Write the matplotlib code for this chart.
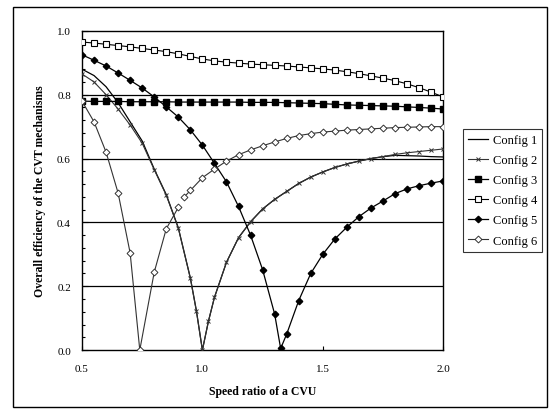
import numpy as np
import matplotlib
matplotlib.use("Agg")
import matplotlib.pyplot as plt
from matplotlib.patches import Rectangle
from matplotlib.ticker import MultipleLocator, FormatStrFormatter

plt.rcParams['font.family'] = ['Liberation Serif', 'DejaVu Serif']

# speed ratio samples, 0.05 apart
x_std = [0.50, 0.55, 0.60, 0.65, 0.70, 0.75, 0.80, 0.85, 0.90, 0.95, 1.00,
         1.05, 1.10, 1.15, 1.20, 1.25, 1.30, 1.35, 1.40, 1.45, 1.50, 1.55,
         1.60, 1.65, 1.70, 1.75, 1.80, 1.85, 1.90, 1.95, 2.00]

# configs 1 and 2 have extra samples either side of the zero at 1.0
x_c12 = [0.50, 0.55, 0.60, 0.65, 0.70, 0.75, 0.80, 0.85, 0.90, 0.95, 0.975,
         1.00, 1.025, 1.05, 1.10, 1.15, 1.20, 1.25, 1.30, 1.35, 1.40, 1.45,
         1.50, 1.55, 1.60, 1.65, 1.70, 1.75, 1.80, 1.85, 1.90, 1.95, 2.00]
eff_c1 = [0.880, 0.860, 0.825, 0.775, 0.715, 0.655, 0.567, 0.487, 0.383, 0.226, 0.124,
          0.000, 0.090, 0.165, 0.275, 0.352, 0.402, 0.442, 0.472, 0.497, 0.522, 0.542,
          0.558, 0.572, 0.583, 0.592, 0.600, 0.606, 0.610, 0.609, 0.608, 0.606, 0.605]
eff_c2 = [0.865, 0.840, 0.800, 0.755, 0.705, 0.648, 0.565, 0.485, 0.382, 0.225, 0.122,
          0.000, 0.090, 0.165, 0.275, 0.352, 0.402, 0.442, 0.472, 0.497, 0.522, 0.542,
          0.558, 0.572, 0.583, 0.592, 0.600, 0.606, 0.613, 0.618, 0.622, 0.626, 0.630]

eff_c3 = [0.780, 0.779, 0.779, 0.779, 0.778, 0.778, 0.778, 0.778, 0.777, 0.777, 0.777,
          0.777, 0.777, 0.777, 0.776, 0.776, 0.776, 0.775, 0.774, 0.773, 0.772, 0.770,
          0.768, 0.767, 0.766, 0.765, 0.764, 0.762, 0.760, 0.758, 0.755]
eff_c4 = [0.965, 0.962, 0.958, 0.954, 0.950, 0.945, 0.940, 0.935, 0.928, 0.920, 0.912,
          0.906, 0.902, 0.899, 0.896, 0.894, 0.892, 0.890, 0.887, 0.884, 0.881, 0.877,
          0.872, 0.866, 0.859, 0.852, 0.844, 0.834, 0.822, 0.808, 0.793]

x_c5 = [0.50, 0.55, 0.60, 0.65, 0.70, 0.75, 0.80, 0.85, 0.90, 0.95, 1.00,
        1.05, 1.10, 1.15, 1.20, 1.25, 1.30, 1.325, 1.35, 1.40, 1.45, 1.50,
        1.55, 1.60, 1.65, 1.70, 1.75, 1.80, 1.85, 1.90, 1.95, 2.00]
eff_c5 = [0.925, 0.908, 0.890, 0.868, 0.845, 0.821, 0.793, 0.762, 0.730, 0.690, 0.642,
          0.585, 0.527, 0.450, 0.360, 0.252, 0.113, 0.005, 0.050, 0.155, 0.240, 0.300,
          0.348, 0.385, 0.418, 0.445, 0.467, 0.490, 0.505, 0.515, 0.523, 0.530]

# config 6 has a break just after 0.9
x_c6 = [0.50, 0.55, 0.60, 0.65, 0.70, 0.74, 0.80, 0.85, 0.90, np.nan, 0.925,
        0.95, 1.00, 1.05, 1.10, 1.15, 1.20, 1.25, 1.30, 1.35, 1.40, 1.45,
        1.50, 1.55, 1.60, 1.65, 1.70, 1.75, 1.80, 1.85, 1.90, 1.95, 2.00]
eff_c6 = [0.780, 0.715, 0.620, 0.492, 0.304, 0.000, 0.244, 0.380, 0.447, np.nan, 0.480,
          0.500, 0.540, 0.567, 0.592, 0.612, 0.627, 0.640, 0.652, 0.663, 0.672, 0.678,
          0.683, 0.686, 0.689, 0.691, 0.693, 0.695, 0.697, 0.698, 0.699, 0.700, 0.700]

fig = plt.figure(figsize=(5.54, 4.14), dpi=100)
ax = fig.add_axes([0.148, 0.152, 0.652, 0.771])

for yg in [0.2, 0.4, 0.6, 0.8]:
    ax.axhline(yg, color='black', lw=0.9, zorder=1)

ax.plot(x_c12, eff_c1, color='black', lw=0.9, label='Config 1', zorder=3)
ax.plot(x_c12, eff_c2, color='#333333', lw=0.8, marker='x', ms=3.2, mew=0.7,
        label='Config 2', zorder=3)
ax.plot(x_std, eff_c3, color='black', lw=0.9, marker='s', ms=4,
        mfc='black', label='Config 3', zorder=3)
ax.plot(x_std, eff_c4, color='black', lw=0.8, marker='s', ms=4.5, mfc='white', mew=0.8,
        label='Config 4', zorder=3)
ax.plot(x_c5, eff_c5, color='black', lw=0.9, marker='D', ms=3.3, mfc='black',
        label='Config 5', zorder=3)
ax.plot(x_c6, eff_c6, color='#333333', lw=0.8, marker='D', ms=3.5, mfc='white', mew=0.7,
        label='Config 6', zorder=3)

ax.set_xlim(0.5, 2.0)
ax.set_ylim(0.0, 1.0)
ax.xaxis.set_major_locator(MultipleLocator(0.5))
ax.yaxis.set_major_locator(MultipleLocator(0.2))
ax.yaxis.set_minor_locator(MultipleLocator(0.04))
ax.xaxis.set_major_formatter(FormatStrFormatter('%.1f'))
ax.yaxis.set_major_formatter(FormatStrFormatter('%.1f'))
ax.tick_params(axis='both', which='both', direction='in', labelsize=8, width=0.8)
ax.tick_params(axis='y', which='major', length=4, pad=8)
ax.tick_params(axis='y', which='minor', length=2.5)
ax.tick_params(axis='x', which='major', length=3, pad=10)
ax.tick_params(top=False, right=False)
for sp in ax.spines.values():
    sp.set_linewidth(1.0)
    sp.set_color('black')

ax.set_xlabel('Speed ratio of a CVU', fontsize=8.5, fontweight='bold', labelpad=9)
ax.set_ylabel('Overall efficiency of the CVT mechanisms', fontsize=8.5,
              fontweight='bold', labelpad=8)

leg = fig.legend(loc='upper left', bbox_to_anchor=(0.836, 0.686), fontsize=9,
                 frameon=True, fancybox=False, edgecolor='black', handlelength=1.6,
                 handletextpad=0.4, borderpad=0.4, labelspacing=0.65, borderaxespad=0)
leg.get_frame().set_linewidth(0.8)

# outer border of the chart area
fig.patches.append(Rectangle((13 / 554, 1 - 408 / 414), 534 / 554, 400 / 414,
                             transform=fig.transFigure, fill=False,
                             edgecolor='black', lw=1.0))

fig.savefig('out.png', dpi=100)
